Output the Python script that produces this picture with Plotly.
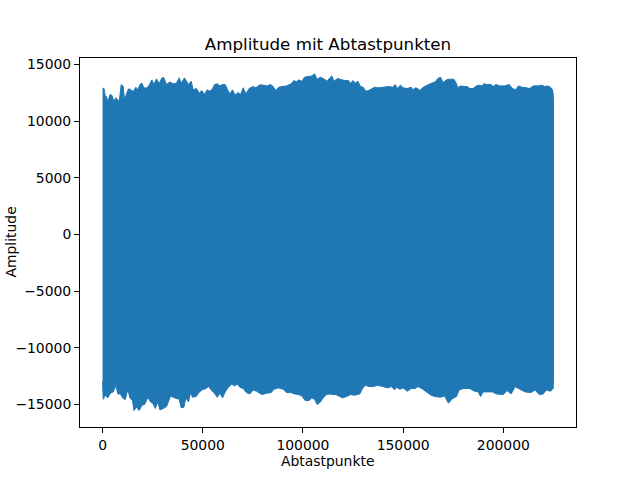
import plotly.graph_objects as go

# Upper envelope of the sampled signal: sample index, amplitude
upper_samples = [0,670,1330,2000,2660,3660,4660,5650,6650,7650,8310,9310,10310,10980,11970,12970,13970,15300,16630,17630,18630,19620,20620,21950,23280,24610,25610,26940,28270,29600,30600,31930,33590,35250,36920,38250,39240,40900,41900,42900,44230,45230,46890,48220,49550,50880,52220,53550,54880,55870,57200,58540,59870,61200,62530,63530,64860,66190,67520,68850,70180,71510,73180,75170,76500,78500,80490,82150,83820,85150,86480,87810,89470,91800,94130,95460,96790,97790,99450,100780,102440,104440,105770,107100,108760,110430,112090,113420,114420,115420,117410,119410,121400,122730,123730,125060,126060,127390,128720,130050,131380,132710,134040,135700,137700,140030,142690,145020,146010,147010,148680,150010,152000,154000,155000,155990,157320,158320,159650,161310,162640,164310,165970,167300,168630,169960,171630,173290,175280,176280,177280,178610,180610,181940,183270,184930,186590,187920,189250,190250,191910,193910,194910,196240,198230,200560,202890,204550,206220,207550,209210,211540,213200,214860,217360,219350,220680,221850,223510,224510,224850,225000]
upper_amplitude = [12890,12920,12270,12130,11690,12330,12300,11770,12070,11890,11720,13240,13060,11890,12420,12860,12800,12620,13000,12770,13240,13360,12950,12920,13180,13650,13240,13740,13300,13830,13830,13240,13470,13300,13360,13830,13360,13830,13530,13240,13530,12770,12890,12480,12710,12360,12770,12650,12860,13240,13300,13120,13240,13240,12710,12420,12770,12300,12540,12360,12950,12420,12890,13060,12950,13210,13180,13120,13240,13060,12710,13000,13060,13120,13300,13590,13470,13650,13530,13890,13940,14000,14180,13710,13890,13740,13530,13830,14000,13530,13770,13650,13590,13590,13360,13590,13360,13530,13060,13000,12650,12710,12830,13000,12950,13000,13060,13000,13240,12890,13180,12950,12890,13000,12770,12950,12890,12710,12950,13120,13240,13360,13470,13770,13890,13420,13650,13710,13710,13420,12950,13120,13060,13060,12890,12890,13120,13180,13120,13300,13240,13240,13060,13240,13120,13120,13240,12890,12770,13120,13000,12950,12890,13120,13120,13180,13060,13120,13000,12770,12420,11830]

# Lower envelope of the sampled signal: sample index, amplitude
lower_samples = [0,330,1330,2660,3990,5320,6650,7650,8980,9980,11310,12640,13640,14970,15630,16960,18290,19620,20950,22620,23950,25280,26280,27610,28600,30270,31930,33930,35920,38250,39250,40580,41580,42910,43900,44900,46900,47890,49560,51550,52880,54210,55880,57210,58540,59870,61200,62530,64520,65850,67190,68520,70180,71840,73510,75170,76830,79490,81820,84150,85480,87810,90130,91800,94130,95790,97790,99450,101110,103110,104440,105770,107100,108760,110090,111750,113420,114750,116410,117740,119740,121740,123730,125730,128390,129720,131050,133040,135040,137030,140030,142020,144350,145680,146680,148340,150010,152000,154000,155990,157320,159320,161650,163980,165970,168630,170630,172620,174620,176610,177940,179940,183270,185600,187590,188590,189920,192250,194570,196570,199900,201890,203890,205880,208210,210870,213870,215860,217860,219850,221510,223510,224850,225000]
lower_amplitude = [-12950,-14530,-14180,-14410,-13970,-13885,-13300,-14060,-14060,-14410,-14560,-13650,-14410,-14650,-15525,-15235,-15525,-15060,-15000,-14355,-14765,-14940,-15350,-14765,-15470,-15350,-15175,-14235,-14410,-14530,-15290,-15235,-14410,-14765,-13945,-14355,-14265,-13970,-13710,-13590,-13415,-13710,-14000,-14355,-14000,-14410,-13885,-13530,-13180,-13360,-13180,-13470,-13590,-13945,-14060,-13710,-13825,-14120,-14000,-13945,-13650,-13530,-13650,-13945,-13945,-14060,-14120,-14235,-14650,-14650,-14410,-14530,-15000,-14765,-14410,-14120,-14060,-14120,-14120,-14235,-14410,-14295,-14120,-14180,-14060,-13590,-13300,-13415,-13415,-13300,-13415,-13530,-13415,-13710,-13470,-13650,-13530,-13825,-13590,-13590,-13415,-13590,-13885,-14180,-14295,-14355,-14235,-14880,-14470,-14295,-13710,-13590,-13590,-13825,-13885,-14295,-13885,-13885,-13885,-14060,-14120,-13770,-14060,-13415,-13650,-13885,-13945,-13710,-14120,-14060,-13710,-13825,-13590,-12770]

x_ticks = [0, 50000, 100000, 150000, 200000]
y_ticks = [-15000, -10000, -5000, 0, 5000, 10000, 15000]
x_range = [-11250, 236250]
y_range = [-16980, 15580]
title = "Amplitude mit Abtastpunkten"
x_label = "Abtastpunkte"
y_label = "Amplitude"

BLUE = "#1f77b4"
FONT = "DejaVu Sans"

fig = go.Figure(
    go.Scatter(
        x=upper_samples + lower_samples[::-1],
        y=upper_amplitude + lower_amplitude[::-1],
        mode="lines",
        fill="toself",
        fillcolor=BLUE,
        line=dict(color=BLUE, width=1, simplify=False),
        hoverinfo="skip",
    )
)

axis_common = dict(
    showgrid=False,
    zeroline=False,
    showline=True,
    mirror=True,
    linecolor="black",
    linewidth=1,
    ticks="outside",
    ticklen=5,
    tickwidth=1,
    tickcolor="black",
    tickformat="d",
    automargin=False,
    tickfont=dict(family=FONT, size=13.9, color="black"),
)

fig.update_layout(
    width=640,
    height=480,
    autosize=False,
    showlegend=False,
    paper_bgcolor="white",
    plot_bgcolor="white",
    margin=dict(l=80, r=64, t=58, b=53, pad=0),
    font=dict(family=FONT, color="black"),
    title=dict(
        text=title,
        x=328 / 640,
        xanchor="center",
        y=1 - 44 / 480,
        yanchor="middle",
        font=dict(family=FONT, size=16.7, color="black"),
    ),
    xaxis=dict(range=x_range, tickvals=x_ticks, **axis_common),
    yaxis=dict(range=y_range, tickvals=y_ticks, **axis_common),
    annotations=[
        dict(
            text=x_label,
            xref="paper",
            yref="paper",
            x=0.498,
            y=-(461 - 427) / 369,
            xanchor="center",
            yanchor="middle",
            showarrow=False,
            font=dict(family=FONT, size=13.9, color="black"),
        ),
        dict(
            text=y_label,
            xref="paper",
            yref="paper",
            x=(10 - 80) / 496,
            y=0.5,
            xanchor="center",
            yanchor="middle",
            textangle=-90,
            showarrow=False,
            font=dict(family=FONT, size=13.9, color="black"),
        ),
    ],
)

fig.write_html(
    "out.html",
    config={"displayModeBar": False},
    post_script="document.body.style.margin='0';",
)
